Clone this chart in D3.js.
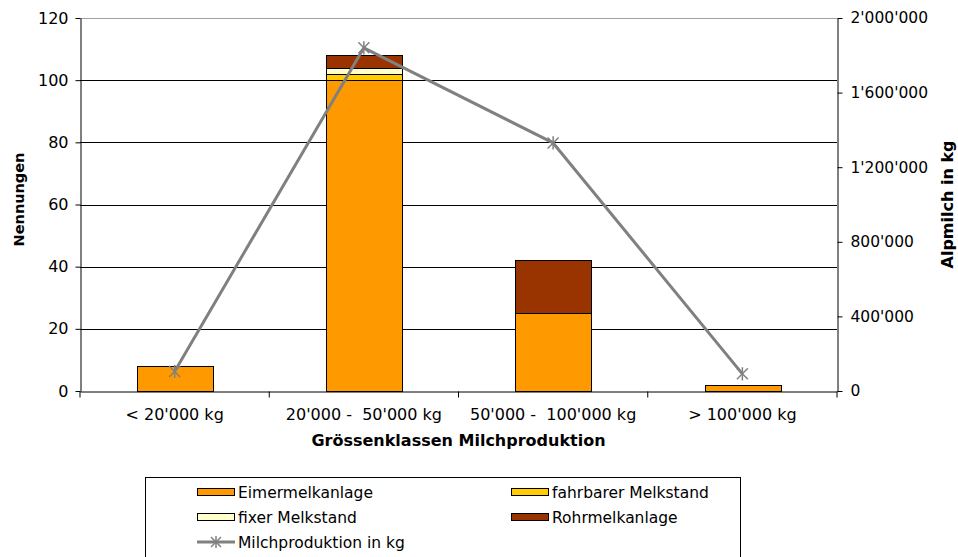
<!DOCTYPE html>
<html>
<head>
<meta charset="utf-8">
<script src="https://cdn.jsdelivr.net/npm/d3@7"></script>
<style>
  body { margin: 0; background: #fff; }
  svg { display: block; font-family: "DejaVu Sans", Verdana, sans-serif; }
  text { white-space: pre; }
</style>
</head>
<body>
<svg id="chart" width="958" height="557"></svg>
<script>
"use strict"

// categories and series
const categories = ["< 20'000 kg", "20'000 -  50'000 kg", "50'000 -  100'000 kg", "> 100'000 kg"];
const eimermelkanlage = [8, 100, 25, 2];
const fahrbarerMelkstand = [0, 2, 0, 0];
const fixerMelkstand = [0, 2, 0, 0];
const rohrmelkanlage = [0, 4, 17, 0];
const milchproduktion = [105000, 1840000, 1330000, 92000];

const leftTicks = [0, 20, 40, 60, 80, 100, 120];
const rightTicks = [0, 400000, 800000, 1200000, 1600000, 2000000];

const seriesNames = ["Eimermelkanlage", "fahrbarer Melkstand", "fixer Melkstand", "Rohrmelkanlage"];
const seriesColors = ["#ff9900", "#ffcc00", "#ffffcc", "#993300"];
const lineName = "Milchproduktion in kg";
const lineColor = "#808080";

//------------------------ layout ------------------------//
const plot = { left: 80, right: 837, top: 18, bottom: 391 };
const svg = d3.select("#chart");

const x = d3.scaleBand().domain(categories).range([plot.left, plot.right]).paddingInner(0.6).paddingOuter(0.3);
const xOuter = d3.scaleBand().domain(categories).range([plot.left, plot.right]);
const yLeft = d3.scaleLinear().domain([0, 120]).range([plot.bottom, plot.top]);
const yRight = d3.scaleLinear().domain([0, 2000000]).range([plot.bottom, plot.top]);

const swiss = d3.formatLocale({ decimal: ".", thousands: "'", grouping: [3], currency: ["", ""] });
const fmtRight = swiss.format(",d");

// gridlines
svg.append("g")
    .selectAll("line")
    .data(leftTicks.filter(d => d > 0))
    .join("line")
    .attr("x1", plot.left).attr("x2", plot.right)
    .attr("y1", d => Math.round(yLeft(d)) + 0.5).attr("y2", d => Math.round(yLeft(d)) + 0.5)
    .attr("stroke", d => d === 120 ? "#a0a0a0" : "#000")
    .attr("stroke-width", 1);

// stacked bars
const rows = categories.map((c, i) => ({
    cat: c,
    vals: [eimermelkanlage[i], fahrbarerMelkstand[i], fixerMelkstand[i], rohrmelkanlage[i]]
}));
const stacked = d3.stack().keys([0, 1, 2, 3]).value((d, k) => d.vals[k])(rows);

svg.append("g")
    .selectAll("g")
    .data(stacked)
    .join("g")
    .attr("fill", (d, i) => seriesColors[i])
    .selectAll("rect")
    .data(d => d.filter(s => s[1] > s[0]))
    .join("rect")
    .attr("x", d => Math.round(x(d.data.cat)) + 0.5)
    .attr("width", Math.round(x.bandwidth()))
    .attr("y", d => Math.round(yLeft(d[1])) + 0.5)
    .attr("height", d => Math.round(yLeft(d[0])) - Math.round(yLeft(d[1])))
    .attr("stroke", "#000")
    .attr("stroke-width", 1);

// axes
const axisLeft = d3.axisLeft(yLeft).tickValues(leftTicks).tickSize(5).tickSizeOuter(0);
const gl = svg.append("g").attr("transform", `translate(${plot.left + 0.5},0)`).call(axisLeft);
const axisRight = d3.axisRight(yRight).tickValues(rightTicks).tickSize(5).tickSizeOuter(0).tickFormat(fmtRight);
const gr = svg.append("g").attr("transform", `translate(${plot.right + 0.5},0)`).call(axisRight);
const axisBottom = d3.axisBottom(xOuter).tickSize(6).tickSizeOuter(0);
const gb = svg.append("g").attr("transform", `translate(0,${plot.bottom + 0.5})`).call(axisBottom);

[gl, gr, gb].forEach(g => {
    g.selectAll("path.domain").attr("stroke", "#000");
    g.selectAll("line").attr("stroke", "#000");
    g.selectAll("text").attr("fill", "#000").style("font-size", "16px").style("font-family", "DejaVu Sans, sans-serif");
});
gr.selectAll("text").style("font-size", "15.5px");
gl.selectAll("text").attr("x", -12);
gr.selectAll("text").attr("x", 13);
// bottom ticks at category boundaries instead of centres
gb.selectAll(".tick line")
    .attr("x1", -xOuter.bandwidth() / 2).attr("x2", -xOuter.bandwidth() / 2);
gb.append("line")
    .attr("x1", plot.right).attr("x2", plot.right)
    .attr("y1", 0).attr("y2", 6).attr("stroke", "#000");
gb.selectAll(".tick text").attr("y", 17);

// line series
const cx = i => xOuter(categories[i]) + xOuter.bandwidth() / 2;
const line = d3.line().x((d, i) => cx(i)).y(d => yRight(d));
svg.append("path")
    .datum(milchproduktion)
    .attr("d", line)
    .attr("fill", "none")
    .attr("stroke", lineColor)
    .attr("stroke-width", 3)
    .attr("stroke-linejoin", "round");

const star = (g, r) => {
    g.append("line").attr("x1", -r).attr("x2", r).attr("y1", -r).attr("y2", r);
    g.append("line").attr("x1", -r).attr("x2", r).attr("y1", r).attr("y2", -r);
    g.append("line").attr("x1", 0).attr("x2", 0).attr("y1", -r * 1.2).attr("y2", r * 1.2);
    g.attr("stroke", lineColor).attr("stroke-width", 1.5);
};
svg.append("g")
    .selectAll("g")
    .data(milchproduktion)
    .join("g")
    .attr("transform", (d, i) => `translate(${cx(i)},${yRight(d)})`)
    .each(function () { star(d3.select(this), 5.5); });

// axis titles
svg.append("text")
    .attr("transform", `translate(24,${(plot.top + plot.bottom) / 2 - 5}) rotate(-90)`)
    .attr("text-anchor", "middle")
    .style("font-size", "14.5px").style("font-weight", "bold")
    .text("Nennungen");
svg.append("text")
    .attr("transform", `translate(953,${(plot.top + plot.bottom) / 2}) rotate(-90)`)
    .attr("text-anchor", "middle")
    .style("font-size", "16px").style("font-weight", "bold")
    .text("Alpmilch in kg");
svg.append("text")
    .attr("x", (plot.left + plot.right) / 2).attr("y", 446)
    .attr("text-anchor", "middle")
    .style("font-size", "16px").style("font-weight", "bold")
    .text("Grössenklassen Milchproduktion");

//------------------------ legend ------------------------//
const legend = svg.append("g");
legend.append("rect")
    .attr("x", 145.5).attr("y", 477.5).attr("width", 595).attr("height", 100)
    .attr("fill", "#fff").attr("stroke", "#000");

const legendItems = seriesNames.map((n, i) => ({
    name: n, color: seriesColors[i],
    col: i % 2, row: Math.floor(i / 2)
}));
const colX = [197, 511];
const rowY = [492, 517, 542];

const li = legend.selectAll("g.item")
    .data(legendItems)
    .join("g")
    .attr("class", "item")
    .attr("transform", d => `translate(${colX[d.col]},${rowY[d.row]})`);
li.append("rect")
    .attr("x", 0.5).attr("y", -3.5).attr("width", 37).attr("height", 7)
    .attr("fill", d => d.color).attr("stroke", "#000");
li.append("text")
    .attr("x", 41).attr("y", 5.5)
    .style("font-size", "15.5px")
    .text(d => d.name);

const ll = legend.append("g").attr("transform", `translate(${colX[0]},${rowY[2]})`);
ll.append("line").attr("x1", 0).attr("x2", 38).attr("y1", 0).attr("y2", 0)
    .attr("stroke", lineColor).attr("stroke-width", 3);
const lm = ll.append("g").attr("transform", "translate(19,0)");
star(lm, 5);
ll.append("text").attr("x", 41).attr("y", 5.5).style("font-size", "15.5px").text(lineName);
</script>
</body>
</html>
